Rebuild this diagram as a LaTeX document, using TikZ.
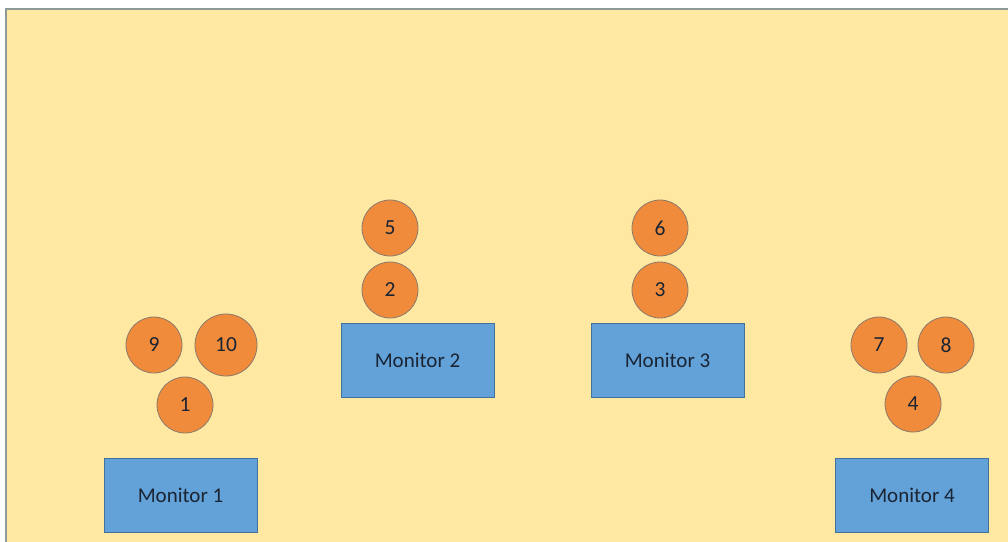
\documentclass[tikz,border=0pt]{standalone}
\usepackage{fontspec}
\setmainfont{Carlito}
\definecolor{bgyellow}{HTML}{FFE8A2}
\definecolor{bgborder}{HTML}{8E9A98}
\definecolor{orng}{HTML}{F08B3C}
\definecolor{orngline}{HTML}{8A7A6A}
\definecolor{mblue}{HTML}{62A2D8}
\definecolor{mline}{HTML}{41719C}
\definecolor{txt}{HTML}{1A2433}
\begin{document}
\begin{tikzpicture}[x=1pt,y=-1pt,
  person/.style={circle,draw=orngline,line width=0.8pt,fill=orng,minimum size=56pt,inner sep=0pt,font=\fontsize{21.5}{24}\selectfont,text=txt},
  monitor/.style={rectangle,draw=mline,line width=0.8pt,fill=mblue,minimum width=153pt,minimum height=74pt,inner sep=0pt,font=\fontsize{21}{24}\selectfont,text=txt}]
\useasboundingbox (0,0) rectangle (1008,541);
\fill[white] (0,0) rectangle (1008,541);
\draw[bgborder,line width=1.5pt,fill=bgyellow] (6,560) -- (6,9) -- (1020,9) -- (1020,560) -- cycle;
% monitors
\node[monitor] (m1) at (180.5,495) {Monitor 1};
\node[monitor] (m2) at (417.5,360) {Monitor 2};
\node[monitor] (m3) at (667.5,360) {Monitor 3};
\node[monitor] (m4) at (912,495) {Monitor 4};
% people
\node[person] (p9) at (154,345) {9};
\node[person,minimum width=62pt] (p10) at (226,345) {10};
\node[person] (p1) at (185,405) {1};
\node[person] (p5) at (390,228) {5};
\node[person] (p2) at (390,290) {2};
\node[person] (p6) at (660,228) {6};
\node[person] (p3) at (660,290) {3};
\node[person] (p7) at (879,345) {7};
\node[person] (p8) at (946,345) {8};
\node[person] (p4) at (913,404) {4};
\end{tikzpicture}
\end{document}
